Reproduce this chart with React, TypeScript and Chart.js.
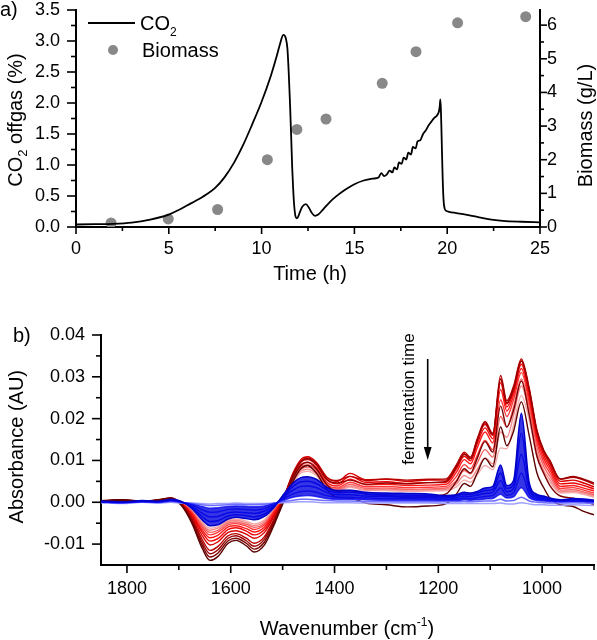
import React, { useEffect, useRef } from 'react';
import { Chart, registerables } from 'chart.js';

Chart.register(...registerables);

const FONT = '"Liberation Sans", Arial, Helvetica, sans-serif';
Chart.defaults.font.family = FONT;
Chart.defaults.color = '#000';

// ---------- Panel a: CO2 offgas and biomass ----------
const CO2_TIME_H = [
  0, 1, 2, 3, 4, 5, 5.5, 6, 6.5, 7, 7.5, 8, 8.5, 9, 9.5, 10, 10.5, 10.8, 11.0, 11.17,
  11.3, 11.39, 11.46, 11.53, 11.6, 11.65, 11.7, 11.76, 11.82, 11.89, 11.96, 12.05, 12.2, 12.39, 12.55,
  12.7, 12.88, 13.05, 13.33, 13.7, 14.0, 14.5, 15.0, 15.5, 16.0, 16.3, 16.45, 16.6, 16.75, 16.9,
  17.05, 17.15, 17.3, 17.4, 17.55, 17.65, 17.8, 17.9, 18.05, 18.15, 18.3, 18.4, 18.55, 18.7, 18.85,
  19.0, 19.15, 19.3, 19.45, 19.55, 19.6, 19.63, 19.66, 19.7, 19.75, 19.8, 19.86, 19.95, 20.1, 20.5,
  21, 21.5, 22, 22.5, 23, 24, 25,
];
const CO2_PERCENT = [
  0.04, 0.045, 0.05, 0.07, 0.12, 0.2, 0.27, 0.35, 0.43, 0.52, 0.63, 0.8, 1.03, 1.32, 1.66, 2.02, 2.44, 2.74, 2.96, 3.1,
  3.05, 2.88, 2.5, 2.0, 1.4, 0.95, 0.62, 0.33, 0.18, 0.14, 0.16, 0.23, 0.33, 0.37, 0.31,
  0.23, 0.18, 0.2, 0.29, 0.41, 0.49, 0.6, 0.69, 0.75, 0.78, 0.8, 0.87, 0.82, 0.85, 0.91,
  0.88, 0.96, 0.93, 1.04, 1.02, 1.12, 1.09, 1.2, 1.17, 1.29, 1.27, 1.38, 1.4, 1.5, 1.56,
  1.64, 1.7, 1.76, 1.8, 1.86, 1.95, 2.06, 1.9, 1.45, 0.85, 0.45, 0.3, 0.26, 0.245, 0.225,
  0.2, 0.17, 0.14, 0.115, 0.1, 0.085, 0.075,
];
const BIOMASS_TIME_H = [1.89, 4.97, 7.63, 10.31, 11.9, 13.47, 16.5, 18.32, 20.56, 24.23];
const BIOMASS_G_L = [0.12, 0.24, 0.52, 2.0, 2.9, 3.21, 4.27, 5.21, 6.07, 6.25];

const A_X_MINOR = [2.5, 7.5, 12.5, 17.5, 22.5];
const A_Y_MINOR = [0.25, 0.75, 1.25, 1.75, 2.25, 2.75, 3.25];
const A_Y2_MINOR = [0.5, 1.5, 2.5, 3.5, 4.5, 5.5];

// ---------- Panel b: difference spectra (values in 10^-3 AU) ----------
const WAVENUMBER = [
  1850, 1810, 1770, 1740, 1715, 1695, 1675, 1655, 1640, 1625,
  1605, 1590, 1570, 1555, 1535, 1515, 1500, 1480, 1465, 1452,
  1435, 1415, 1395, 1370, 1340, 1300, 1260, 1220, 1185, 1165,
  1150, 1138, 1125, 1110, 1095, 1080, 1068, 1055, 1040, 1025,
  1010, 997, 985, 965, 940, 920, 900,
];
const SPEC_M1 = [0.2, 0.6, 0.3, 0.5, 0.9, -0.8, -5.0, -11.0, -13.9, -13.0, -9.8, -9.1, -10.4, -11.9, -10.2, -5.0, -0.5, 5.0, 8.0, 8.8, 7.0, 3.0, 1.2, 1.0, -0.2, -0.6, -1.1, -0.9, -0.3, 2.0, 4.5, 3.8, 7.0, 10.5, 8.5, 18.0, 13.5, 17.0, 24.0, 16.0, 7.0, 3.5, 1.0, -0.6, -1.0, -2.2, -3.0];
const SPEC_M2 = [0.3, 0.5, 0.2, 0.6, 1.0, -0.6, -4.6, -10.3, -13.1, -12.2, -9.2, -8.6, -9.8, -11.2, -9.5, -4.5, -0.2, 5.8, 8.8, 9.6, 8.0, 4.2, 2.6, 2.8, 2.0, 1.6, 1.2, 1.4, 2.0, 5.0, 8.0, 7.0, 10.5, 14.5, 12.0, 23.0, 18.0, 22.0, 29.0, 21.0, 11.0, 7.0, 4.0, 1.5, 1.0, 0.3, -0.5];
const SPEC_M3 = [0.4, 0.6, 0.3, 0.5, 1.1, -0.5, -4.2, -9.6, -12.3, -11.4, -8.6, -8.0, -9.2, -10.5, -8.8, -4.0, 0.2, 6.5, 9.6, 10.4, 9.0, 5.5, 4.6, 5.3, 4.3, 4.6, 4.4, 4.7, 5.0, 8.5, 11.5, 10.4, 14.8, 19.0, 16.2, 29.5, 23.8, 27.2, 33.8, 27.0, 17.0, 12.3, 9.8, 5.6, 6.2, 5.5, 4.6];
const SPEC_M4 = [0.3, 0.5, 0.2, 0.5, 0.9, -0.4, -3.8, -8.9, -11.5, -10.6, -8.0, -7.5, -8.6, -9.8, -8.2, -3.6, 0.3, 6.8, 9.8, 10.6, 9.4, 6.0, 5.2, 6.2, 5.2, 5.6, 5.3, 5.5, 5.6, 9.0, 12.0, 10.8, 15.2, 19.3, 16.5, 30.3, 24.3, 27.8, 34.3, 27.4, 17.3, 12.5, 10.0, 5.5, 6.0, 5.3, 4.3];
const SPEC_R1 = [0.2, 0.4, 0.1, 0.4, 0.8, -0.4, -3.4, -8.0, -10.2, -9.5, -7.2, -6.8, -7.6, -8.6, -7.2, -3.0, 0.5, 7.0, 10.2, 10.9, 9.6, 6.0, 5.0, 6.9, 5.4, 5.5, 5.0, 5.3, 5.3, 8.6, 11.6, 10.5, 14.8, 18.6, 16.0, 29.5, 23.5, 27.2, 33.8, 26.8, 16.8, 12.0, 9.2, 5.0, 5.3, 4.6, 3.7];
const SPEC_R2 = [0.3, 0.4, 0.2, 0.3, 0.7, -0.3, -3.0, -7.2, -9.3, -8.7, -6.5, -6.1, -6.9, -7.8, -6.5, -2.6, 0.6, 6.6, 9.6, 10.2, 9.0, 5.4, 4.4, 6.2, 4.8, 4.9, 4.5, 4.7, 4.8, 8.0, 11.0, 9.9, 14.0, 17.8, 15.2, 28.6, 22.8, 26.5, 33.0, 26.0, 16.0, 11.3, 8.5, 4.4, 4.6, 4.0, 3.2];
const SPEC_R3 = [0.2, 0.3, 0.1, 0.3, 0.6, -0.3, -2.7, -6.6, -8.5, -7.9, -5.9, -5.6, -6.3, -7.1, -5.9, -2.2, 0.7, 6.2, 9.0, 9.5, 8.4, 4.8, 3.9, 5.5, 4.2, 4.3, 4.0, 4.1, 4.3, 7.2, 10.2, 9.2, 13.0, 16.8, 14.2, 27.0, 21.8, 25.6, 32.0, 25.0, 15.2, 10.5, 7.8, 3.8, 4.0, 3.4, 2.7];
const SPEC_R4 = [0.2, 0.3, 0.1, 0.2, 0.5, -0.2, -2.4, -6.0, -7.8, -7.2, -5.4, -5.1, -5.7, -6.5, -5.4, -1.9, 0.8, 5.8, 8.4, 8.9, 7.8, 4.3, 3.4, 4.8, 3.7, 3.8, 3.5, 3.6, 3.8, 6.2, 9.0, 8.0, 11.2, 14.8, 12.6, 24.5, 20.5, 24.5, 31.0, 24.0, 14.3, 9.6, 7.0, 3.3, 3.5, 2.9, 2.2];
const SPEC_P1 = [0.1, 0.3, 0.1, 0.2, 0.5, -0.2, -2.2, -5.5, -7.2, -6.7, -5.0, -4.7, -5.3, -6.0, -5.0, -1.7, 0.9, 5.4, 7.9, 8.4, 7.3, 3.9, 3.1, 4.3, 3.3, 3.4, 3.1, 3.2, 3.4, 5.2, 7.6, 6.8, 9.4, 12.6, 10.8, 20.5, 18.0, 22.8, 29.5, 22.8, 13.2, 8.6, 6.2, 2.9, 3.0, 2.5, 1.8];
const SPEC_P2 = [0.1, 0.2, 0.0, 0.2, 0.4, -0.2, -2.0, -5.1, -6.7, -6.2, -4.6, -4.3, -4.9, -5.6, -4.6, -1.5, 1.0, 5.0, 7.4, 7.9, 6.8, 3.6, 2.9, 3.9, 3.0, 3.1, 2.9, 3.0, 3.1, 4.4, 6.4, 5.7, 7.9, 10.6, 9.2, 16.8, 15.5, 20.8, 27.8, 21.5, 12.0, 7.6, 5.4, 2.5, 2.6, 2.2, 1.5];
const SPEC_P3 = [0.1, 0.2, 0.0, 0.1, 0.4, -0.2, -1.8, -4.7, -6.2, -5.8, -4.3, -4.0, -4.5, -5.2, -4.2, -1.3, 1.1, 4.7, 7.0, 7.4, 6.4, 3.3, 2.7, 3.6, 2.8, 2.8, 2.6, 2.7, 2.8, 3.7, 5.3, 4.8, 6.6, 8.8, 7.8, 13.0, 12.8, 18.5, 25.5, 19.8, 10.8, 6.8, 4.8, 2.2, 2.3, 1.9, 1.2];
const SPEC_B1 = [0.3, 0.1, 0.4, 0.2, 0.7, 0.2, -1.5, -4.2, -5.6, -5.4, -4.0, -3.6, -3.9, -4.2, -3.4, -1.0, 1.6, 4.6, 5.9, 6.1, 5.5, 3.6, 2.8, 2.9, 2.4, 2.2, 2.1, 2.0, 1.6, 1.8, 2.4, 2.2, 2.6, 3.4, 3.8, 8.9, 4.0, 5.2, 21.3, 4.8, 1.9, 1.5, 1.0, 0.6, 0.9, 0.8, 0.5];
const SPEC_B2 = [0.2, 0.0, 0.3, 0.2, 0.6, 0.1, -1.2, -3.4, -4.6, -4.4, -3.3, -3.0, -3.2, -3.5, -2.8, -0.8, 1.3, 3.8, 4.9, 5.0, 4.5, 3.0, 2.3, 2.4, 2.0, 1.8, 1.7, 1.6, 1.3, 1.5, 2.0, 1.8, 2.2, 2.8, 3.1, 7.0, 3.3, 4.3, 16.5, 3.9, 1.5, 1.2, 0.8, 0.5, 0.7, 0.6, 0.4];
const SPEC_B3 = [0.2, 0.0, 0.2, 0.1, 0.5, 0.1, -0.9, -2.6, -3.5, -3.4, -2.5, -2.3, -2.5, -2.7, -2.1, -0.6, 1.0, 2.9, 3.8, 3.9, 3.5, 2.3, 1.8, 1.8, 1.5, 1.4, 1.3, 1.2, 1.0, 1.1, 1.5, 1.4, 1.7, 2.1, 2.4, 5.2, 2.5, 3.3, 11.5, 3.0, 1.1, 0.9, 0.6, 0.4, 0.5, 0.5, 0.3];
const SPEC_B4 = [0.1, -0.1, 0.2, 0.1, 0.4, 0.0, -0.6, -1.8, -2.4, -2.3, -1.7, -1.6, -1.7, -1.9, -1.5, -0.4, 0.7, 2.0, 2.6, 2.7, 2.4, 1.6, 1.2, 1.2, 1.0, 0.9, 0.9, 0.8, 0.7, 0.7, 1.0, 0.9, 1.1, 1.4, 1.6, 3.4, 1.7, 2.2, 7.0, 2.0, 0.7, 0.6, 0.4, 0.2, 0.3, 0.3, 0.2];
const SPEC_B5 = [0.1, -0.1, 0.1, 0.0, 0.3, 0.0, -0.4, -1.0, -1.4, -1.3, -1.0, -0.9, -1.0, -1.1, -0.9, -0.2, 0.4, 1.2, 1.5, 1.6, 1.4, 0.9, 0.7, 0.7, 0.6, 0.5, 0.5, 0.5, 0.4, 0.4, 0.6, 0.5, 0.6, 0.8, 0.9, 1.9, 1.0, 1.3, 3.5, 1.1, 0.4, 0.3, 0.2, 0.1, 0.2, 0.1, 0.0];
const SPEC_L1 = [0.0, -0.2, 0.1, -0.1, 0.2, -0.1, -0.3, -0.6, -0.8, -0.7, -0.6, -0.5, -0.6, -0.6, -0.5, -0.2, 0.1, 0.5, 0.7, 0.7, 0.6, 0.4, 0.3, 0.3, 0.2, 0.2, 0.1, 0.1, 0.1, 0.1, 0.2, 0.1, 0.2, 0.3, 0.3, 0.7, 0.3, 0.4, 1.2, 0.3, 0.0, -0.1, -0.2, -0.2, -0.1, -0.2, -0.3];
const SPEC_L2 = [-0.1, -0.3, 0.0, -0.2, 0.0, -0.2, -0.2, -0.3, -0.4, -0.3, -0.3, -0.2, -0.3, -0.3, -0.3, -0.2, -0.1, 0.0, 0.1, 0.1, 0.0, -0.1, -0.1, -0.1, -0.2, -0.2, -0.2, -0.2, -0.3, -0.3, -0.3, -0.3, -0.3, -0.3, -0.3, -0.2, -0.4, -0.4, -0.1, -0.4, -0.6, -0.6, -0.7, -0.7, -0.6, -0.7, -0.8];

const SPECTRA = [SPEC_M1, SPEC_M2, SPEC_M3, SPEC_M4, SPEC_R1, SPEC_R2, SPEC_R3, SPEC_R4, SPEC_P1, SPEC_P2, SPEC_P3, SPEC_B1, SPEC_B2, SPEC_B3, SPEC_B4, SPEC_B5, SPEC_L1, SPEC_L2];
const SPECTRA_COLORS = ['#5c0000', '#7a0000', '#990000', '#b80000', '#d80000', '#ee0000', '#ff1a1a', '#ff3b3b', '#f56565', '#f58888', '#f5aaaa', '#0000c8', '#0000e0', '#0a0af5', '#2222ff', '#3c3cff', '#6e6eff', '#a0a0ff'];
const BLUE_BAND_TOP = 11; // index of SPEC_B1
const BLUE_BAND_BOTTOM = 15; // index of SPEC_B5

const B_X_MINOR = [1700, 1500, 1300, 1100, 900];
const B_Y_MINOR = [-0.005, 0.005, 0.015, 0.025, 0.035];

// ---------- helpers ----------
type Part = { t: string; s: number; dy?: number };

function drawRich(ctx: CanvasRenderingContext2D, parts: Part[], x: number, y: number, rot: number, align: 'left' | 'center') {
  ctx.save();
  ctx.translate(x, y);
  if (rot) ctx.rotate(rot);
  ctx.textAlign = 'left';
  ctx.textBaseline = 'alphabetic';
  ctx.fillStyle = '#000';
  let total = 0;
  for (const p of parts) {
    ctx.font = `${p.s}px ${FONT}`;
    total += ctx.measureText(p.t).width;
  }
  let cx = align === 'center' ? -total / 2 : 0;
  for (const p of parts) {
    ctx.font = `${p.s}px ${FONT}`;
    ctx.fillText(p.t, cx, p.dy || 0);
    cx += ctx.measureText(p.t).width;
  }
  ctx.restore();
}

function drawTickMarks(chart: any, id: string, minors: number[], side: 'left' | 'right' | 'bottom', majorLen: number, minorLen: number) {
  const s = chart.scales[id];
  const ctx: CanvasRenderingContext2D = chart.ctx;
  ctx.save();
  ctx.strokeStyle = '#000';
  ctx.lineWidth = 1.6;
  const draw = (v: number, len: number) => {
    const p = s.getPixelForValue(v);
    ctx.beginPath();
    if (side === 'bottom') {
      ctx.moveTo(p, s.top);
      ctx.lineTo(p, s.top + len);
    } else if (side === 'left') {
      ctx.moveTo(s.right, p);
      ctx.lineTo(s.right - len, p);
    } else {
      ctx.moveTo(s.left, p);
      ctx.lineTo(s.left + len, p);
    }
    ctx.stroke();
  };
  s.ticks.forEach((t: any) => draw(t.value, majorLen));
  minors.forEach((v) => draw(v, minorLen));
  ctx.restore();
}

const tickFont = { size: 18, family: FONT };
const axisBase = {
  grid: { display: false, drawTicks: false },
  border: { display: true, color: '#000', width: 2 },
};

export default function App() {
  const refA = useRef<HTMLCanvasElement>(null);
  const refB = useRef<HTMLCanvasElement>(null);

  useEffect(() => {
    const co2Data = CO2_TIME_H.map((t, i) => ({ x: t, y: CO2_PERCENT[i] }));
    const bioData = BIOMASS_TIME_H.map((t, i) => ({ x: t, y: BIOMASS_G_L[i] }));

    const decorA = {
      id: 'decorA',
      afterDraw(chart: any) {
        const ctx: CanvasRenderingContext2D = chart.ctx;
        drawTickMarks(chart, 'x', A_X_MINOR, 'bottom', 7, 4);
        drawTickMarks(chart, 'y', A_Y_MINOR, 'left', 9, 5);
        drawTickMarks(chart, 'y2', A_Y2_MINOR, 'right', 7, 4);
        drawRich(ctx, [{ t: 'a)', s: 20 }], 0, 16, 0, 'left');
        drawRich(ctx, [{ t: 'CO', s: 20 }, { t: '2', s: 13, dy: 5 }, { t: ' offgas (%)', s: 20 }], 22, 120, -Math.PI / 2, 'center');
        drawRich(ctx, [{ t: 'Biomass (g/L)', s: 20 }], 592, 125.5, -Math.PI / 2, 'center');
        drawRich(ctx, [{ t: 'Time (h)', s: 20 }], 310, 280, 0, 'center');
        // legend
        ctx.save();
        ctx.strokeStyle = '#000';
        ctx.lineWidth = 1.8;
        ctx.beginPath();
        ctx.moveTo(88, 23);
        ctx.lineTo(135, 23);
        ctx.stroke();
        ctx.fillStyle = '#888888';
        ctx.beginPath();
        ctx.arc(113, 50, 5, 0, Math.PI * 2);
        ctx.fill();
        ctx.restore();
        drawRich(ctx, [{ t: 'CO', s: 20 }, { t: '2', s: 12, dy: 6 }], 140, 30, 0, 'left');
        drawRich(ctx, [{ t: 'Biomass', s: 20 }], 142, 57, 0, 'left');
      },
    };

    const chartA = new Chart(refA.current as HTMLCanvasElement, {
      type: 'scatter',
      data: {
        datasets: [
          {
            label: 'CO2',
            data: co2Data,
            showLine: true,
            borderColor: '#000',
            borderWidth: 1.8,
            pointRadius: 0,
            cubicInterpolationMode: 'monotone',
            yAxisID: 'y',
          } as any,
          {
            label: 'Biomass',
            data: bioData,
            showLine: false,
            pointRadius: 5.5,
            pointBackgroundColor: '#888888',
            pointBorderWidth: 0,
            backgroundColor: '#888888',
            yAxisID: 'y2',
          } as any,
        ],
      },
      options: {
        animation: false,
        responsive: false,
        devicePixelRatio: 1,
        layout: { padding: { top: 10, left: 0, right: 0, bottom: 0 } },
        plugins: { legend: { display: false }, tooltip: { enabled: false } },
        scales: {
          x: {
            type: 'linear',
            position: 'bottom',
            min: 0,
            max: 25,
            ...axisBase,
            ticks: { stepSize: 5, font: tickFont, color: '#000', padding: 11, maxRotation: 0, autoSkip: false },
            afterFit: (s: any) => { s.height = 73; s.paddingLeft = 0; s.paddingRight = 0; },
          },
          y: {
            type: 'linear',
            position: 'left',
            min: 0,
            max: 3.5,
            ...axisBase,
            ticks: { stepSize: 0.5, font: tickFont, color: '#000', padding: 16, autoSkip: false, callback: (v: any) => Number(v).toFixed(1) },
            afterFit: (s: any) => { s.width = 76; s.paddingTop = 0; s.paddingBottom = 0; },
          },
          y2: {
            type: 'linear',
            position: 'right',
            min: 0,
            max: 6.45,
            ...axisBase,
            ticks: { stepSize: 1, includeBounds: false, font: tickFont, color: '#000', padding: 7, autoSkip: false, callback: (v: any) => String(Math.round(Number(v))) },
            afterFit: (s: any) => { s.width = 57; s.paddingTop = 0; s.paddingBottom = 0; },
          },
        } as any,
      },
      plugins: [decorA],
    });

    const specDatasets = SPECTRA.map((vals, k) => {
      const isBlue = k >= BLUE_BAND_TOP;
      const ds: any = {
        label: `spectrum ${k + 1}`,
        data: WAVENUMBER.map((w, i) => ({ x: w, y: vals[i] / 1000 })),
        showLine: true,
        borderColor: SPECTRA_COLORS[k],
        borderWidth: isBlue ? 1.5 : 1.4,
        pointRadius: 0,
        cubicInterpolationMode: 'monotone',
        order: isBlue ? 1 : 2 + (SPECTRA.length - k) * 0,
        fill: false,
      };
      if (k === BLUE_BAND_TOP) {
        ds.fill = { target: BLUE_BAND_BOTTOM };
        ds.backgroundColor = 'rgba(8, 8, 225, 0.82)';
      }
      return ds;
    });

    const decorB = {
      id: 'decorB',
      afterDraw(chart: any) {
        const ctx: CanvasRenderingContext2D = chart.ctx;
        drawTickMarks(chart, 'x', B_X_MINOR, 'bottom', 8, 5);
        drawTickMarks(chart, 'y', B_Y_MINOR, 'left', 9, 5);
        drawRich(ctx, [{ t: 'b)', s: 20 }], 13, 32, 0, 'left');
        drawRich(ctx, [{ t: 'Absorbance (AU)', s: 20 }], 23, 136.7, -Math.PI / 2, 'center');
        drawRich(ctx, [{ t: 'Wavenumber (cm', s: 20 }, { t: '-1', s: 12, dy: -9 }, { t: ')', s: 20 }], 347, 325, 0, 'center');
        drawRich(ctx, [{ t: 'fermentation time', s: 17 }], 414, 89, -Math.PI / 2, 'center');
        ctx.save();
        ctx.strokeStyle = '#000';
        ctx.fillStyle = '#000';
        ctx.lineWidth = 1.6;
        ctx.beginPath();
        ctx.moveTo(427.7, 49);
        ctx.lineTo(427.7, 140);
        ctx.stroke();
        ctx.beginPath();
        ctx.moveTo(427.7, 150);
        ctx.lineTo(423.8, 137);
        ctx.lineTo(431.6, 137);
        ctx.closePath();
        ctx.fill();
        ctx.restore();
      },
    };

    const chartB = new Chart(refB.current as HTMLCanvasElement, {
      type: 'scatter',
      data: { datasets: specDatasets },
      options: {
        animation: false,
        responsive: false,
        devicePixelRatio: 1,
        layout: { padding: { top: 25, left: 0, right: 3, bottom: 0 } },
        plugins: { legend: { display: false }, tooltip: { enabled: false } },
        scales: {
          x: {
            type: 'linear',
            position: 'bottom',
            reverse: true,
            min: 900,
            max: 1850,
            ...axisBase,
            ticks: { stepSize: 200, includeBounds: false, font: tickFont, color: '#000', padding: 13.5, maxRotation: 0, autoSkip: false, callback: (v: any) => String(Math.round(Number(v))) },
            afterFit: (s: any) => { s.height = 75; s.paddingLeft = 0; s.paddingRight = 0; },
          },
          y: {
            type: 'linear',
            position: 'left',
            min: -0.015,
            max: 0.04,
            ...axisBase,
            ticks: { stepSize: 0.01, includeBounds: false, font: tickFont, color: '#000', padding: 16, autoSkip: false, callback: (v: any) => Number(v).toFixed(2) },
            afterFit: (s: any) => { s.width = 101; s.paddingTop = 0; s.paddingBottom = 0; },
          },
        } as any,
      },
      plugins: [decorB],
    });

    return () => {
      chartA.destroy();
      chartB.destroy();
    };
  }, []);

  return (
    <div style={{ position: 'absolute', left: 0, top: 0, width: 597, height: 640, background: '#fff' }}>
      <canvas ref={refA} width={597} height={300} style={{ position: 'absolute', left: 0, top: 0, width: 597, height: 300 }} />
      <canvas ref={refB} width={597} height={330} style={{ position: 'absolute', left: 0, top: 310, width: 597, height: 330 }} />
    </div>
  );
}
